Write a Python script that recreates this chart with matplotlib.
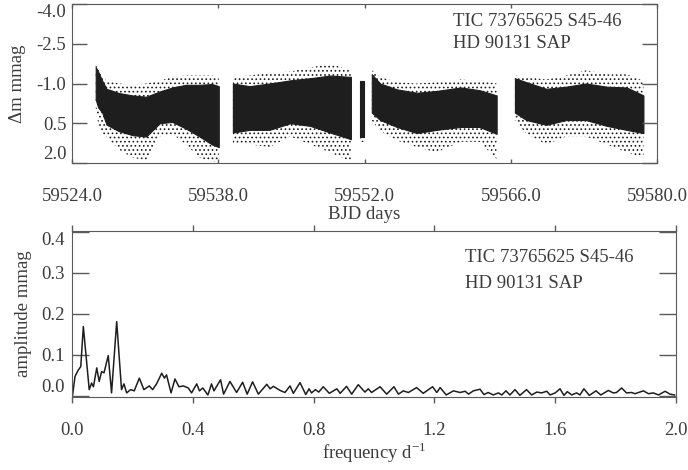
import matplotlib
matplotlib.use("Agg")
import matplotlib.pyplot as plt

plt.rcParams['font.family'] = ['Liberation Serif', 'DejaVu Serif']
plt.rcParams['hatch.linewidth'] = 0.7
plt.rcParams['hatch.color'] = '#1e1e1e'

seg1_t = [59526.27, 59526.5, 59526.9, 59527.3, 59528.5, 59529.8, 59531.1, 59532.4, 59533.6, 59534.9, 59536.2, 59537.4, 59538.05]
seg1_top = [-1.62, -1.45, -1.1, -0.8, -0.64, -0.55, -0.5, -0.7, -0.85, -0.95, -0.95, -0.98, -0.9]
seg1_bot = [-0.4, -0.1, 0.1, 0.55, 0.8, 0.95, 1.0, 0.5, 0.45, 0.7, 1.0, 1.3, 1.4]
seg1_out_top = [-1.75, -1.6, -1.3, -1.1, -1.0, -0.95, -1.0, -1.1, -1.25, -1.3, -1.3, -1.3, -1.2]
seg1_out_bot = [-0.1, 0.5, 0.9, 1.0, 1.5, 1.8, 1.9, 1.0, 0.9, 1.3, 1.8, 1.95, 1.95]

seg2_t = [59539.4, 59541.0, 59542.9, 59544.9, 59546.8, 59548.7, 59550.7]
seg2_top = [-1.0, -0.9, -1.0, -1.12, -1.2, -1.3, -1.25]
seg2_bot = [0.85, 0.75, 0.75, 0.5, 0.6, 0.85, 1.1]
seg2_out_top = [-1.25, -1.3, -1.4, -1.45, -1.6, -1.75, -1.5]
seg2_out_bot = [1.3, 1.3, 1.4, 1.0, 1.3, 1.6, 1.95]

seg3_t = [59551.55, 59551.95]
seg3_top = [-1.1, -1.1]
seg3_bot = [1.0, 1.0]
seg3_out_top = [-1.15, -1.15]
seg3_out_bot = [1.2, 1.2]

seg4_t = [59552.7, 59553.5, 59555.1, 59557.0, 59558.9, 59561.2, 59563.0, 59564.65]
seg4_top = [-1.35, -1.0, -0.78, -0.65, -0.72, -0.85, -0.75, -0.55]
seg4_bot = [0.1, 0.38, 0.64, 0.87, 0.75, 0.64, 0.64, 0.9]
seg4_out_top = [-1.5, -1.25, -1.05, -1.0, -1.05, -1.15, -1.1, -1.0]
seg4_out_bot = [0.4, 0.8, 1.15, 1.4, 1.6, 1.2, 1.2, 1.85]

seg5_t = [59566.4, 59567.5, 59569.4, 59571.3, 59573.2, 59575.2, 59577.1, 59578.7]
seg5_top = [-1.2, -1.05, -0.8, -0.88, -1.0, -0.88, -0.85, -0.55]
seg5_bot = [0.1, 0.38, 0.56, 0.38, 0.38, 0.6, 0.75, 0.87]
seg5_out_top = [-1.3, -1.25, -1.15, -1.3, -1.5, -1.35, -1.35, -1.1]
seg5_out_bot = [0.4, 0.9, 1.3, 1.0, 1.0, 1.3, 1.6, 1.8]

# amplitude spectrum
freq = [0.002, 0.010, 0.021, 0.029, 0.0375, 0.057, 0.065, 0.071, 0.082, 0.090, 0.098, 0.106, 0.120, 0.131,
        0.148, 0.164, 0.172, 0.181, 0.194, 0.206, 0.223, 0.238, 0.256, 0.267, 0.280, 0.297, 0.306, 0.313,
        0.328, 0.341, 0.354, 0.369, 0.385, 0.396, 0.413, 0.422, 0.433, 0.450, 0.462, 0.470, 0.492, 0.502,
        0.523, 0.545, 0.565, 0.580, 0.598, 0.617, 0.645, 0.656, 0.667, 0.689, 0.705, 0.722, 0.733, 0.755,
        0.774, 0.785, 0.793, 0.806, 0.817, 0.832, 0.852, 0.877, 0.888, 0.909, 0.926, 0.948, 0.970, 0.981,
        0.992, 1.020, 1.042, 1.066, 1.081, 1.097, 1.114, 1.125, 1.141, 1.163, 1.194, 1.208, 1.219, 1.239,
        1.263, 1.285, 1.302, 1.313, 1.329, 1.351, 1.364, 1.378, 1.395, 1.412, 1.423, 1.437, 1.450, 1.467,
        1.483, 1.505, 1.522, 1.539, 1.555, 1.572, 1.583, 1.600, 1.616, 1.629, 1.640, 1.655, 1.671, 1.682,
        1.695, 1.713, 1.735, 1.751, 1.776, 1.792, 1.803, 1.820, 1.836, 1.853, 1.864, 1.872, 1.892, 1.909,
        1.925, 1.942, 1.964, 1.980, 1.995]
amp = [0.002, 0.047, 0.063, 0.071, 0.169, 0.015, 0.031, 0.022, 0.068, 0.035, 0.059, 0.056, 0.098, 0.007,
       0.181, 0.015, 0.029, 0.007, 0.015, 0.012, 0.043, 0.015, 0.024, 0.015, 0.029, 0.055, 0.043, 0.051,
       0.007, 0.041, 0.022, 0.024, 0.019, 0.007, 0.029, 0.012, 0.019, 0.002, 0.029, 0.012, 0.039, 0.004,
       0.035, 0.008, 0.033, 0.004, 0.034, 0.004, 0.028, 0.017, 0.023, 0.013, 0.008, 0.024, 0.006, 0.032,
       0.003, 0.017, 0.007, 0.015, 0.009, 0.022, 0.006, 0.017, 0.006, 0.023, 0.004, 0.027, 0.009, 0.017,
       0.008, 0.022, 0.004, 0.022, 0.004, 0.012, 0.008, 0.013, 0.020, 0.006, 0.022, 0.008, 0.020, 0.002,
       0.012, 0.008, 0.011, 0.004, 0.012, 0.016, 0.003, 0.008, 0.002, 0.007, 0.002, 0.012, 0.002, 0.015,
       0.001, 0.015, 0.002, 0.009, 0.007, 0.011, 0.002, 0.007, 0.017, 0.001, 0.010, 0.002, 0.007, 0.002,
       0.017, 0.001, 0.012, 0.002, 0.013, 0.007, 0.008, 0.019, 0.007, 0.008, 0.005, 0.007, 0.012, 0.005,
       0.007, 0.002, 0.011, 0.004, 0.002]

top_xticks = [59524.0, 59538.0, 59552.0, 59566.0, 59580.0]
top_yticks = [-4.0, -2.5, -1.0, 0.5, 2.0]
bot_xticks = [0.0, 0.4, 0.8, 1.2, 1.6, 2.0]
bot_yticks = [0.0, 0.1, 0.2, 0.3, 0.4]
label_lines = ['TIC 73765625 S45-46', 'HD 90131 SAP']

txtc = '#3c3c3c'
spc = '#5a5a5a'
fs = 13.5

fig = plt.figure(figsize=(6.88, 4.70), dpi=100)
ax1 = fig.add_axes([72/688, 1-163/470, (657-72)/688, 159/470])
ax2 = fig.add_axes([72/688, 1-397/470, (676-72)/688, 166/470])

segments = [(seg1_t, seg1_top, seg1_bot, seg1_out_top, seg1_out_bot),
            (seg2_t, seg2_top, seg2_bot, seg2_out_top, seg2_out_bot),
            (seg3_t, seg3_top, seg3_bot, seg3_out_top, seg3_out_bot),
            (seg4_t, seg4_top, seg4_bot, seg4_out_top, seg4_out_bot),
            (seg5_t, seg5_top, seg5_bot, seg5_out_top, seg5_out_bot)]
for t, top, bot, otop, obot in segments:
    # sparse scattered points outside the dense core
    ax1.fill_between(t, otop, obot, facecolor='none', edgecolor='#1e1e1e', hatch='....', linewidth=0)
    ax1.fill_between(t, top, bot, facecolor='#1e1e1e', edgecolor='#1e1e1e', linewidth=0.8)

ax1.set_xlim(59524.0, 59580.0)
ax1.set_ylim(2.0, -4.0)
ax1.set_xticks(top_xticks)
ax1.set_xticklabels(['%.1f' % v for v in top_xticks])
ax1.set_yticks(top_yticks)
ax1.set_yticklabels(['%.1f' % v for v in top_yticks])
ax1.tick_params(axis='y', direction='in', length=11, width=1, left=True, right=True, pad=4,
                colors=spc, labelcolor=txtc, labelsize=fs)
ax1.tick_params(axis='x', direction='in', length=3, width=1, top=True, bottom=True, pad=18,
                colors=spc, labelcolor=txtc, labelsize=fs)
ylabs = ax1.get_yticklabels()
ylabs[0].set_va('top')
ylabs[-1].set_va('bottom')
ax1.set_xlabel('BJD days', fontsize=fs, color=txtc, labelpad=1)
ax1.set_ylabel('\u0394m mmag', fontsize=fs, color=txtc, labelpad=8)
for sp in ax1.spines.values():
    sp.set_color(spc)

ax2.plot(freq, amp, color='#1e1e1e', linewidth=1.1)
ax2.set_xlim(0.0, 2.0)
ax2.set_ylim(-0.003, 0.402)
ax2.set_xticks(bot_xticks)
ax2.set_xticklabels(['%.1f' % v for v in bot_xticks])
ax2.set_yticks(bot_yticks)
ax2.set_yticklabels(['%.1f' % v for v in bot_yticks])
ax2.tick_params(axis='y', direction='in', length=12, width=1, left=True, right=True, pad=5,
                colors=spc, labelcolor=txtc, labelsize=fs)
ax2.tick_params(axis='x', direction='out', length=4, width=1, top=True, bottom=True, pad=14,
                colors=spc, labelcolor=txtc, labelsize=fs)
ylabs2 = ax2.get_yticklabels()
ylabs2[0].set_va('bottom')
ylabs2[-1].set_va('top')
ax2.set_xlabel('frequency d$^{\\mathregular{-1}}$', fontsize=fs, color=txtc, labelpad=1)
ax2.set_ylabel('amplitude mmag', fontsize=fs, color=txtc, labelpad=7)
for sp in ax2.spines.values():
    sp.set_color(spc)

# annotation text placed in figure fractions
H = 470
fig.text(453/688, 1-22/H, label_lines[0], fontsize=fs, color=txtc, va='center')
fig.text(453/688, 1-44/H, label_lines[1], fontsize=fs, color=txtc, va='center')
fig.text(465/688, 1-258/H, label_lines[0], fontsize=fs, color=txtc, va='center')
fig.text(465/688, 1-283/H, label_lines[1], fontsize=fs, color=txtc, va='center')

fig.savefig('out.png', dpi=100)
